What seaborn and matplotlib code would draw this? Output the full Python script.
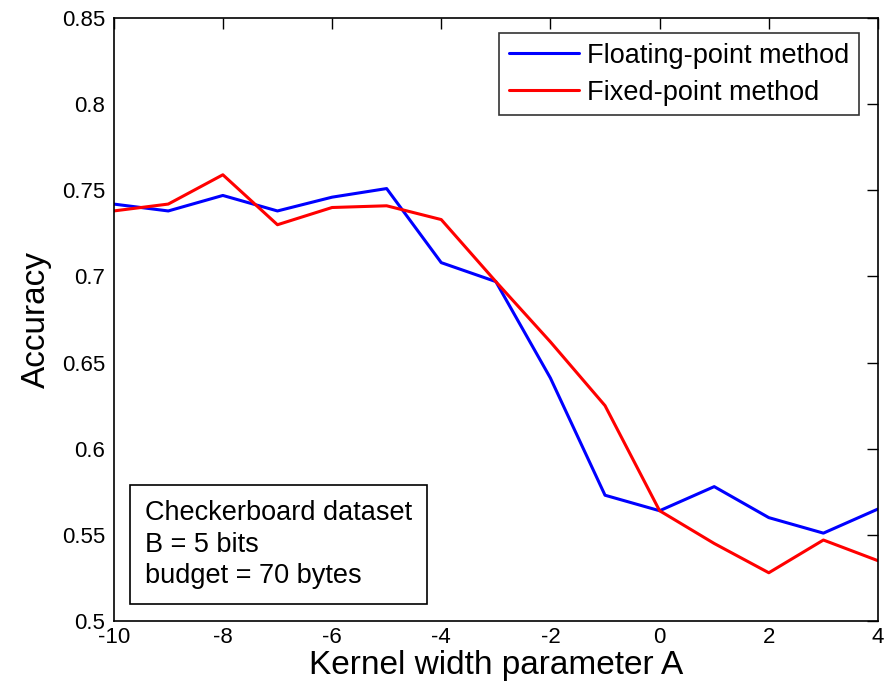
import numpy as np
import pandas as pd
import matplotlib
matplotlib.use("Agg")
import matplotlib.pyplot as plt
import seaborn as sns
from matplotlib.lines import Line2D

kernel_a = [-10, -9, -8, -7, -6, -5, -4, -3, -2, -1, 0, 1, 2, 3, 4]
floating = [0.742, 0.738, 0.747, 0.738, 0.746, 0.751, 0.708, 0.697, 0.641, 0.573, 0.564, 0.578, 0.560, 0.551, 0.565]
fixed = [0.738, 0.742, 0.759, 0.730, 0.740, 0.741, 0.733, 0.697, 0.662, 0.625, 0.564, 0.545, 0.528, 0.547, 0.535]
series_names = ["Floating-point method", "Fixed-point method"]
x_ticks = [-10, -8, -6, -4, -2, 0, 2, 4]
y_ticks = [0.5, 0.55, 0.6, 0.65, 0.7, 0.75, 0.8, 0.85]
y_tick_labels = ["0.5", "0.55", "0.6", "0.65", "0.7", "0.75", "0.8", "0.85"]

df = pd.DataFrame({
    "A": kernel_a * 2,
    "Accuracy": floating + fixed,
    "Method": [series_names[0]] * len(kernel_a) + [series_names[1]] * len(kernel_a),
})

sns.set_theme(style="white")
plt.rcParams["font.family"] = ["Liberation Sans", "DejaVu Sans"]
plt.rcParams["text.color"] = "black"
plt.rcParams["axes.labelcolor"] = "black"

fig = plt.figure(figsize=(8.95, 6.92), dpi=100)
ax = fig.add_axes([0.127, 0.1026, 0.854, 0.8714])
sns.lineplot(data=df, x="A", y="Accuracy", hue="Method",
             palette={series_names[0]: "#0000ff", series_names[1]: "#ff0000"},
             linewidth=2.2, ax=ax, legend=False)

ax.set_xlim(-10, 4)
ax.set_ylim(0.5, 0.85)
ax.set_xticks(x_ticks)
ax.set_xticklabels([str(t) for t in x_ticks])
ax.set_yticks(y_ticks)
ax.set_yticklabels(y_tick_labels)
ax.tick_params(direction="in", length=8, width=1, top=True, right=True,
               labelsize=16, colors="black", pad=6)
ax.tick_params(axis="x", pad=4)
for s in ax.spines.values():
    s.set_color("black")
    s.set_linewidth(1.2)

ax.set_xlabel("Kernel width parameter A", fontsize=24, labelpad=2, color="black")
ax.set_ylabel("Accuracy", fontsize=24, labelpad=7, color="black")

handles = [Line2D([0], [0], color="#0000ff", lw=2.2), Line2D([0], [0], color="#ff0000", lw=2.2)]
leg = ax.legend(handles, series_names, loc="upper right", bbox_to_anchor=(0.975, 0.975),
                fontsize=19.5, frameon=True, fancybox=False, edgecolor="black",
                handlelength=2.6, handletextpad=0.3, borderaxespad=0.0,
                borderpad=0.35, labelspacing=0.42)
leg.get_frame().set_linewidth(1.2)
for t in leg.get_texts():
    t.set_color("black")

ax.text(0.0406, 0.053, "Checkerboard dataset\nB = 5 bits\nbudget = 70 bytes",
        transform=ax.transAxes, fontsize=19.5, va="bottom", ha="left", linespacing=1.27,
        color="black",
        bbox=dict(boxstyle="square,pad=0.55", facecolor="white", edgecolor="black", linewidth=1.2))

fig.savefig("out.png", dpi=100)
